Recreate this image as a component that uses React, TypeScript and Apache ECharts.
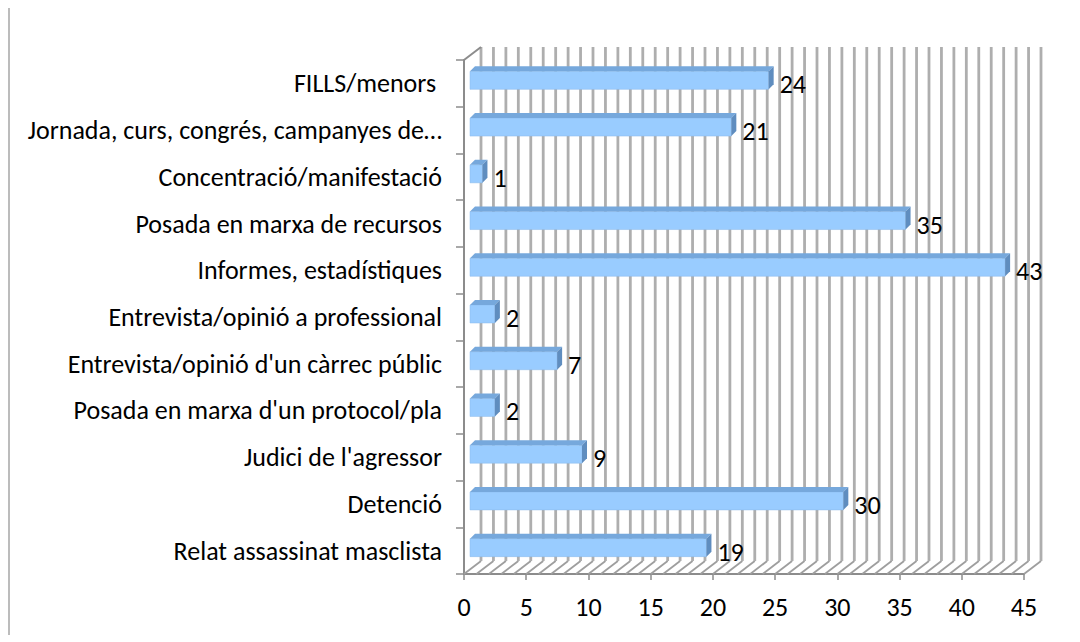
import React, { useEffect, useRef } from "react";
import * as echarts from "echarts";

const categories = [
  "FILLS/menors ",
  "Jornada, curs, congrés, campanyes de…",
  "Concentració/manifestació",
  "Posada en marxa de recursos",
  "Informes, estadístiques",
  "Entrevista/opinió a professional",
  "Entrevista/opinió d'un càrrec públic",
  "Posada en marxa d'un protocol/pla",
  "Judici de l'agressor",
  "Detenció",
  "Relat assassinat masclista",
];
const values = [24, 21, 1, 35, 43, 2, 7, 2, 9, 30, 19];
const xTicks = { min: 0, max: 45, interval: 5 };
const gridSteps = Array.from({ length: 46 }, (_, i) => i);

const FONT = "Carlito, Lato, sans-serif";
const DEPTH_X = 17;
const DEPTH_Y = 13;

export default function App() {
  const ref = useRef<HTMLDivElement>(null);
  useEffect(() => {
    document.body.style.margin = "0";
    const chart = echarts.init(ref.current!, null, { renderer: "svg" });
    chart.setOption({
      animation: false,
      backgroundColor: "#ffffff",
      textStyle: { fontFamily: FONT },
      graphic: [
        {
          type: "line",
          shape: { x1: 9, y1: 8, x2: 9, y2: 635 },
          style: { stroke: "#a6a6a6", lineWidth: 1.5 },
        },
      ],
      grid: { left: 464, right: 56, top: 60, bottom: 68 },
      xAxis: {
        type: "value",
        min: xTicks.min,
        max: xTicks.max,
        interval: xTicks.interval,
        axisLine: { show: true, lineStyle: { color: "#8c8c8c", width: 2 } },
        axisTick: { show: true, length: 6, lineStyle: { color: "#8c8c8c", width: 1.5 } },
        axisLabel: { fontSize: 26, color: "#000", margin: 20, fontFamily: FONT },
        splitLine: { show: false },
      },
      yAxis: {
        type: "category",
        data: categories,
        inverse: true,
        axisLine: { show: true, lineStyle: { color: "#8c8c8c", width: 2 } },
        axisTick: { show: true, length: 8, lineStyle: { color: "#8c8c8c", width: 1.5 } },
        axisLabel: { fontSize: 26, color: "#000", margin: 22, fontFamily: FONT },
        splitLine: { show: false },
      },
      series: [
        {
          type: "custom",
          z: 1,
          silent: true,
          data: gridSteps.map((v) => [v, 0]),
          encode: { x: 0, y: 1 },
          renderItem: (params: any, api: any) => {
            const v = api.value(0);
            const x = api.coord([v, 0])[0];
            const cs = params.coordSys;
            const top = cs.y;
            const bottom = cs.y + cs.height;
            const style = { stroke: "#aeaeae", lineWidth: 2.8 };
            const children: any[] = [
              {
                type: "line",
                shape: { x1: x, y1: bottom, x2: x + DEPTH_X, y2: bottom - DEPTH_Y },
                style: { stroke: "#9e9e9e", lineWidth: 1.8 },
              },
              {
                type: "line",
                shape: { x1: x + DEPTH_X, y1: bottom - DEPTH_Y, x2: x + DEPTH_X, y2: top - DEPTH_Y },
                style,
              },
            ];
            if (v === 0) {
              children.push({
                type: "line",
                shape: { x1: x, y1: top, x2: x + DEPTH_X, y2: top - DEPTH_Y },
                style: { stroke: "#8c8c8c", lineWidth: 2 },
              });
            }
            return { type: "group", children };
          },
        },
        {
          type: "custom",
          z: 3,
          data: values.map((v, i) => [v, i]),
          encode: { x: 0, y: 1 },
          renderItem: (params: any, api: any) => {
            const v = api.value(0);
            const idx = api.value(1);
            const end = api.coord([v, idx]);
            const base = api.coord([0, idx]);
            const dx = 6;
            const dy = -3;
            const h = 18;
            const d = 5;
            const x0 = base[0] + dx;
            const x1 = end[0] + dx;
            const yt = end[1] + dy - h / 2;
            const yb = yt + h;
            return {
              type: "group",
              children: [
                {
                  type: "rect",
                  shape: { x: x0, y: yt, width: x1 - x0, height: h },
                  style: { fill: "#99ccff", stroke: "#8bb9e8", lineWidth: 0.5 },
                },
                {
                  type: "polygon",
                  shape: { points: [[x0, yt], [x1, yt], [x1 + d, yt - d], [x0 + d, yt - d]] },
                  style: { fill: "#76a8dc" },
                },
                {
                  type: "polygon",
                  shape: { points: [[x1, yt], [x1 + d, yt - d], [x1 + d, yb - d], [x1, yb]] },
                  style: { fill: "#5f8dbf" },
                },
                {
                  type: "text",
                  style: {
                    text: String(v),
                    x: end[0] + 17,
                    y: end[1] + 1,
                    verticalAlign: "middle",
                    align: "left",
                    fill: "#000",
                    fontSize: 26,
                    fontFamily: FONT,
                  },
                },
              ],
            };
          },
        },
      ],
    });
    return () => chart.dispose();
  }, []);
  return <div ref={ref} style={{ width: 1080, height: 642, position: "absolute", left: 0, top: 0 }} />;
}
